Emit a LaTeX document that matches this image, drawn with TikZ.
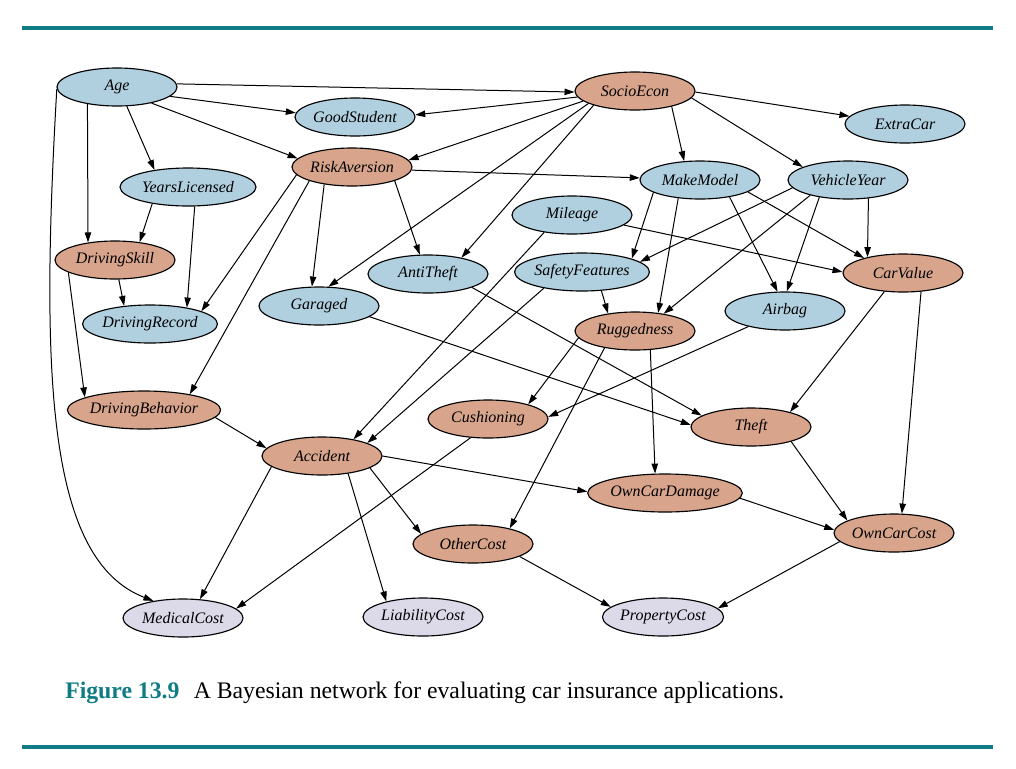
\documentclass[tikz,border=0pt]{standalone}
\usepackage{fontspec}
\setmainfont{Liberation Serif}
\usetikzlibrary{shapes.geometric,arrows.meta}
\definecolor{nblue}{HTML}{B0D0E0}
\definecolor{nsalmon}{HTML}{D8A48C}
\definecolor{nlav}{HTML}{DCD9E8}
\definecolor{teal}{HTML}{0F7C85}
\tikzset{
  bn/.style={ellipse, draw=black, line width=0.85pt, inner sep=0pt,
    minimum width=90pt, minimum height=28.5pt,
    font=\itshape\fontsize{12}{14}\selectfont},
  evid/.style={bn, fill=nblue},
  hidd/.style={bn, fill=nsalmon},
  outn/.style={bn, fill=nlav},
  arr/.style={-{Triangle[length=7.5pt,width=4.8pt]}, line width=0.75pt},
  rulebar/.style={draw=teal, line width=2.4pt}
}
\begin{document}
\begin{tikzpicture}[x=0.75pt, y=-0.75pt]
\useasboundingbox (0,0) rectangle (1016,768);
\coordinate (r1a) at (22,28);
\coordinate (r1b) at (993,28);
\coordinate (r2a) at (22,747);
\coordinate (r2b) at (993,747);
\draw[rulebar] (r1a) -- (r1b);
\draw[rulebar] (r2a) -- (r2b);

\node[evid] (age) at (117,87) {Age};
\node[hidd] (socio) at (635,91) {SocioEcon};
\node[evid] (good) at (355,117) {GoodStudent};
\node[evid] (extra) at (905,124) {ExtraCar};
\node[hidd] (risk) at (352,167) {RiskAversion};
\node[evid, minimum width=102pt] (years) at (188,187) {YearsLicensed};
\node[evid] (make) at (700,180) {MakeModel};
\node[evid] (vyear) at (848,180) {VehicleYear};
\node[evid] (mile) at (572,215) {Mileage};
\node[hidd] (skill) at (115,260) {DrivingSkill};
\node[evid] (anti) at (428,274) {AntiTheft};
\node[evid, minimum width=92pt] (safety) at (582,272) {SafetyFeatures};
\node[hidd] (carval) at (903,273) {CarValue};
\node[evid] (garaged) at (319,306) {Garaged};
\node[evid] (airbag) at (785,311) {Airbag};
\node[evid, minimum width=94pt] (record) at (150,324) {DrivingRecord};
\node[hidd] (rugged) at (635,331) {Ruggedness};
\node[hidd, minimum width=103pt] (behav) at (144,410) {DrivingBehavior};
\node[hidd] (cushion) at (488,419) {Cushioning};
\node[hidd] (theft) at (751,427) {Theft};
\node[hidd] (accident) at (322,456) {Accident};
\node[hidd, minimum width=106pt] (owndmg) at (665,493) {OwnCarDamage};
\node[hidd] (other) at (473,544) {OtherCost};
\node[hidd] (owncost) at (894,533) {OwnCarCost};
\node[outn] (medical) at (183,618) {MedicalCost};
\node[outn] (liab) at (423,617) {LiabilityCost};
\node[outn] (prop) at (663,617) {PropertyCost};

% Age
\draw[arr] (age.3) -- (socio.181);
\draw[arr] (age.-10) -- (good.176);
\draw[arr] (age.-25) -- (risk.171);
\draw[arr] (age.-63) -- (years.153);
\draw[arr] (age.210) -- (skill.147);
\draw[arr] (age.182) .. controls (40,380) and (48,560) .. (medical.150);
% SocioEcon
\draw[arr] (socio.186) -- (good.2);
\draw[arr] (socio.191) -- (risk.7);
\draw[arr] (socio.195) -- (garaged.64);
\draw[arr] (socio.199) -- (anti.26);
\draw[arr] (socio.-23) -- (make.130);
\draw[arr] (socio.-7) -- (vyear.164);
\draw[arr] (socio.-1) -- (extra.172);
% YearsLicensed, DrivingSkill
\draw[arr] (years.205) -- (skill.36);
\draw[arr] (years.289) -- (record.24);
\draw[arr] (skill.281) -- (record.145);
\draw[arr] (skill.195) -- (behav.168);
% RiskAversion
\draw[arr] (risk.188) -- (record.14);
\draw[arr] (risk.198) -- (behav.19);
\draw[arr] (risk.212) -- (garaged.110);
\draw[arr] (risk.-18) -- (anti.113);
\draw[arr] (risk.-3) -- (make.178);
% MakeModel, VehicleYear
\draw[arr] (make.195) -- (safety.15);
\draw[arr] (make.220) -- (rugged.38);
\draw[arr] (make.-30) -- (airbag.111);
\draw[arr] (make.-14) -- (carval.159);
\draw[arr] (vyear.188) -- (safety.10);
\draw[arr] (vyear.202) -- (rugged.31);
\draw[arr] (vyear.211) -- (airbag.85);
\draw[arr] (vyear.-42) -- (carval.156);
% Mileage, SafetyFeatures
\draw[arr] (mile.-11) -- (carval.179);
\draw[arr] (mile.212) -- (accident.28);
\draw[arr] (safety.-44) -- (rugged.147);
\draw[arr] (safety.203) -- (accident.16);
% theft etc.
\draw[arr] (anti.-17) -- (theft.167);
\draw[arr] (garaged.-12) -- (theft.178);
\draw[arr] (carval.225) -- (theft.21);
\draw[arr] (carval.-46) -- (owncost.68);
\draw[arr] (airbag.203) -- (cushion.2);
\draw[arr] (rugged.187) -- (cushion.20);
\draw[arr] (rugged.-51) -- (owndmg.117);
\draw[arr] (rugged.209) -- (other.23);
\draw[arr] (behav.-6) -- (accident.172);
\draw[arr] (accident.0) -- (owndmg.179);
\draw[arr] (accident.-14) -- (other.169);
\draw[arr] (accident.192) -- (medical.48);
\draw[arr] (accident.-34) -- (liab.157);
\draw[arr] (cushion.227) -- (medical.10);
\draw[arr] (theft.-20) -- (owncost.165);
\draw[arr] (owndmg.-4) -- (owncost.177);
\draw[arr] (other.-15) -- (prop.169);
\draw[arr] (owncost.189) -- (prop.9);

\node[anchor=base west, inner sep=0pt, font=\fontsize{17.8}{20}\selectfont] (cap) at (65,698)
  {{\color{teal}\bfseries Figure 13.9}\hspace{0.6em}A Bayesian network for evaluating car insurance applications.};
\end{tikzpicture}
\end{document}
